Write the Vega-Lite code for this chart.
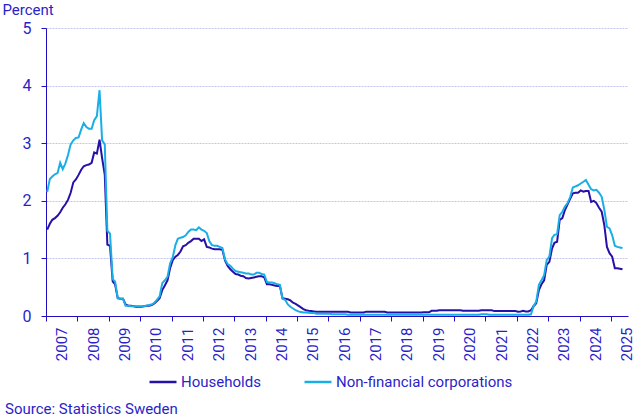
{
  "$schema": "https://vega.github.io/schema/vega-lite/v6.json",
  "width": 582,
  "height": 288,
  "autosize": {"type": "none"},
  "padding": {"left": 46, "top": 28, "right": 16, "bottom": 101},
  "background": "white",
  "config": {"view": {"stroke": null}, "font": "Roboto"},
  "title": {
    "text": "Source: Statistics Sweden",
    "orient": "bottom",
    "anchor": "start",
    "frame": "group",
    "dx": -41,
    "offset": 12,
    "fontSize": 15,
    "fontWeight": "normal",
    "color": "#2a1fc8"
  },
  "datasets": {
    "households": [
      {"d":"2007-01-15","v":1.50},{"d":"2007-02-15","v":1.60},{"d":"2007-03-15","v":1.67},{"d":"2007-04-15","v":1.70},{"d":"2007-05-15","v":1.74},{"d":"2007-06-15","v":1.80},{"d":"2007-07-15","v":1.88},{"d":"2007-08-15","v":1.94},{"d":"2007-09-15","v":2.02},{"d":"2007-10-15","v":2.14},{"d":"2007-11-15","v":2.32},{"d":"2007-12-15","v":2.37},
      {"d":"2008-01-15","v":2.45},{"d":"2008-02-15","v":2.54},{"d":"2008-03-15","v":2.60},{"d":"2008-04-15","v":2.62},{"d":"2008-05-15","v":2.63},{"d":"2008-06-15","v":2.66},{"d":"2008-07-15","v":2.84},{"d":"2008-08-15","v":2.82},{"d":"2008-09-15","v":3.06},{"d":"2008-10-15","v":2.74},{"d":"2008-11-15","v":2.45},{"d":"2008-12-15","v":1.24},
      {"d":"2009-01-15","v":1.22},{"d":"2009-02-15","v":0.60},{"d":"2009-03-15","v":0.55},{"d":"2009-04-15","v":0.31},{"d":"2009-05-15","v":0.30},{"d":"2009-06-15","v":0.30},{"d":"2009-07-15","v":0.20},{"d":"2009-08-15","v":0.18},{"d":"2009-09-15","v":0.18},{"d":"2009-10-15","v":0.17},{"d":"2009-11-15","v":0.16},{"d":"2009-12-15","v":0.16},
      {"d":"2010-01-15","v":0.16},{"d":"2010-02-15","v":0.17},{"d":"2010-03-15","v":0.18},{"d":"2010-04-15","v":0.18},{"d":"2010-05-15","v":0.19},{"d":"2010-06-15","v":0.22},{"d":"2010-07-15","v":0.26},{"d":"2010-08-15","v":0.31},{"d":"2010-09-15","v":0.45},{"d":"2010-10-15","v":0.53},{"d":"2010-11-15","v":0.62},{"d":"2010-12-15","v":0.83},
      {"d":"2011-01-15","v":0.97},{"d":"2011-02-15","v":1.03},{"d":"2011-03-15","v":1.06},{"d":"2011-04-15","v":1.12},{"d":"2011-05-15","v":1.21},{"d":"2011-06-15","v":1.23},{"d":"2011-07-15","v":1.27},{"d":"2011-08-15","v":1.30},{"d":"2011-09-15","v":1.34},{"d":"2011-10-15","v":1.34},{"d":"2011-11-15","v":1.34},{"d":"2011-12-15","v":1.30},
      {"d":"2012-01-15","v":1.33},{"d":"2012-02-15","v":1.20},{"d":"2012-03-15","v":1.19},{"d":"2012-04-15","v":1.17},{"d":"2012-05-15","v":1.16},{"d":"2012-06-15","v":1.16},{"d":"2012-07-15","v":1.16},{"d":"2012-08-15","v":1.15},{"d":"2012-09-15","v":0.96},{"d":"2012-10-15","v":0.87},{"d":"2012-11-15","v":0.81},{"d":"2012-12-15","v":0.77},
      {"d":"2013-01-15","v":0.73},{"d":"2013-02-15","v":0.72},{"d":"2013-03-15","v":0.70},{"d":"2013-04-15","v":0.69},{"d":"2013-05-15","v":0.66},{"d":"2013-06-15","v":0.65},{"d":"2013-07-15","v":0.66},{"d":"2013-08-15","v":0.67},{"d":"2013-09-15","v":0.68},{"d":"2013-10-15","v":0.69},{"d":"2013-11-15","v":0.69},{"d":"2013-12-15","v":0.67},
      {"d":"2014-01-15","v":0.55},{"d":"2014-02-15","v":0.55},{"d":"2014-03-15","v":0.54},{"d":"2014-04-15","v":0.53},{"d":"2014-05-15","v":0.52},{"d":"2014-06-15","v":0.52},{"d":"2014-07-15","v":0.31},{"d":"2014-08-15","v":0.30},{"d":"2014-09-15","v":0.29},{"d":"2014-10-15","v":0.27},{"d":"2014-11-15","v":0.23},{"d":"2014-12-15","v":0.21},
      {"d":"2015-01-15","v":0.18},{"d":"2015-02-15","v":0.15},{"d":"2015-03-15","v":0.12},{"d":"2015-04-15","v":0.10},{"d":"2015-05-15","v":0.09},{"d":"2015-06-15","v":0.085},{"d":"2015-07-15","v":0.08},{"d":"2015-08-15","v":0.075},{"d":"2015-09-15","v":0.075},{"d":"2015-10-15","v":0.075},{"d":"2015-11-15","v":0.075},{"d":"2015-12-15","v":0.075},
      {"d":"2016-01-15","v":0.075},{"d":"2016-02-15","v":0.075},{"d":"2016-03-15","v":0.075},{"d":"2016-04-15","v":0.075},{"d":"2016-05-15","v":0.075},{"d":"2016-06-15","v":0.075},{"d":"2016-07-15","v":0.075},{"d":"2016-08-15","v":0.075},{"d":"2016-09-15","v":0.06},{"d":"2016-10-15","v":0.06},{"d":"2016-11-15","v":0.06},{"d":"2016-12-15","v":0.06},
      {"d":"2017-01-15","v":0.06},{"d":"2017-02-15","v":0.06},{"d":"2017-03-15","v":0.075},{"d":"2017-04-15","v":0.075},{"d":"2017-05-15","v":0.075},{"d":"2017-06-15","v":0.075},{"d":"2017-07-15","v":0.075},{"d":"2017-08-15","v":0.075},{"d":"2017-09-15","v":0.075},{"d":"2017-10-15","v":0.075},{"d":"2017-11-15","v":0.06},{"d":"2017-12-15","v":0.06},
      {"d":"2018-01-15","v":0.06},{"d":"2018-02-15","v":0.06},{"d":"2018-03-15","v":0.06},{"d":"2018-04-15","v":0.06},{"d":"2018-05-15","v":0.06},{"d":"2018-06-15","v":0.06},{"d":"2018-07-15","v":0.06},{"d":"2018-08-15","v":0.06},{"d":"2018-09-15","v":0.06},{"d":"2018-10-15","v":0.06},{"d":"2018-11-15","v":0.06},{"d":"2018-12-15","v":0.06},
      {"d":"2019-01-15","v":0.065},{"d":"2019-02-15","v":0.065},{"d":"2019-03-15","v":0.065},{"d":"2019-04-15","v":0.09},{"d":"2019-05-15","v":0.09},{"d":"2019-06-15","v":0.09},{"d":"2019-07-15","v":0.10},{"d":"2019-08-15","v":0.10},{"d":"2019-09-15","v":0.10},{"d":"2019-10-15","v":0.10},{"d":"2019-11-15","v":0.10},{"d":"2019-12-15","v":0.10},
      {"d":"2020-01-15","v":0.10},{"d":"2020-02-15","v":0.10},{"d":"2020-03-15","v":0.10},{"d":"2020-04-15","v":0.09},{"d":"2020-05-15","v":0.09},{"d":"2020-06-15","v":0.09},{"d":"2020-07-15","v":0.09},{"d":"2020-08-15","v":0.09},{"d":"2020-09-15","v":0.09},{"d":"2020-10-15","v":0.09},{"d":"2020-11-15","v":0.10},{"d":"2020-12-15","v":0.10},
      {"d":"2021-01-15","v":0.10},{"d":"2021-02-15","v":0.10},{"d":"2021-03-15","v":0.10},{"d":"2021-04-15","v":0.085},{"d":"2021-05-15","v":0.085},{"d":"2021-06-15","v":0.085},{"d":"2021-07-15","v":0.085},{"d":"2021-08-15","v":0.085},{"d":"2021-09-15","v":0.085},{"d":"2021-10-15","v":0.085},{"d":"2021-11-15","v":0.085},{"d":"2021-12-15","v":0.085},
      {"d":"2022-01-15","v":0.075},{"d":"2022-02-15","v":0.08},{"d":"2022-03-15","v":0.09},{"d":"2022-04-15","v":0.08},{"d":"2022-05-15","v":0.08},{"d":"2022-06-15","v":0.10},{"d":"2022-07-15","v":0.17},{"d":"2022-08-15","v":0.22},{"d":"2022-09-15","v":0.45},{"d":"2022-10-15","v":0.55},{"d":"2022-11-15","v":0.62},{"d":"2022-12-15","v":0.89},
      {"d":"2023-01-15","v":0.94},{"d":"2023-02-15","v":1.17},{"d":"2023-03-15","v":1.27},{"d":"2023-04-15","v":1.29},{"d":"2023-05-15","v":1.67},{"d":"2023-06-15","v":1.70},{"d":"2023-07-15","v":1.84},{"d":"2023-08-15","v":1.94},{"d":"2023-09-15","v":2.04},{"d":"2023-10-15","v":2.13},{"d":"2023-11-15","v":2.14},{"d":"2023-12-15","v":2.14},
      {"d":"2024-01-15","v":2.18},{"d":"2024-02-15","v":2.16},{"d":"2024-03-15","v":2.17},{"d":"2024-04-15","v":2.17},{"d":"2024-05-15","v":1.98},{"d":"2024-06-15","v":2.00},{"d":"2024-07-15","v":1.96},{"d":"2024-08-15","v":1.88},{"d":"2024-09-15","v":1.81},{"d":"2024-10-15","v":1.58},{"d":"2024-11-15","v":1.20},{"d":"2024-12-15","v":1.09},
      {"d":"2025-01-15","v":1.03},{"d":"2025-02-15","v":0.83},{"d":"2025-03-15","v":0.83},{"d":"2025-04-15","v":0.82},{"d":"2025-05-15","v":0.81}
    ],
    "nfc": [
      {"d":"2007-01-15","v":2.15},{"d":"2007-02-15","v":2.38},{"d":"2007-03-15","v":2.42},{"d":"2007-04-15","v":2.46},{"d":"2007-05-15","v":2.48},{"d":"2007-06-15","v":2.66},{"d":"2007-07-15","v":2.55},{"d":"2007-08-15","v":2.65},{"d":"2007-09-15","v":2.80},{"d":"2007-10-15","v":2.98},{"d":"2007-11-15","v":3.05},{"d":"2007-12-15","v":3.09},
      {"d":"2008-01-15","v":3.10},{"d":"2008-02-15","v":3.24},{"d":"2008-03-15","v":3.35},{"d":"2008-04-15","v":3.28},{"d":"2008-05-15","v":3.25},{"d":"2008-06-15","v":3.25},{"d":"2008-07-15","v":3.40},{"d":"2008-08-15","v":3.47},{"d":"2008-09-15","v":3.92},{"d":"2008-10-15","v":3.05},{"d":"2008-11-15","v":2.98},{"d":"2008-12-15","v":1.48},
      {"d":"2009-01-15","v":1.43},{"d":"2009-02-15","v":0.64},{"d":"2009-03-15","v":0.60},{"d":"2009-04-15","v":0.31},{"d":"2009-05-15","v":0.30},{"d":"2009-06-15","v":0.30},{"d":"2009-07-15","v":0.18},{"d":"2009-08-15","v":0.18},{"d":"2009-09-15","v":0.17},{"d":"2009-10-15","v":0.17},{"d":"2009-11-15","v":0.17},{"d":"2009-12-15","v":0.17},
      {"d":"2010-01-15","v":0.17},{"d":"2010-02-15","v":0.17},{"d":"2010-03-15","v":0.18},{"d":"2010-04-15","v":0.19},{"d":"2010-05-15","v":0.20},{"d":"2010-06-15","v":0.23},{"d":"2010-07-15","v":0.28},{"d":"2010-08-15","v":0.34},{"d":"2010-09-15","v":0.57},{"d":"2010-10-15","v":0.62},{"d":"2010-11-15","v":0.68},{"d":"2010-12-15","v":0.91},
      {"d":"2011-01-15","v":1.02},{"d":"2011-02-15","v":1.23},{"d":"2011-03-15","v":1.34},{"d":"2011-04-15","v":1.36},{"d":"2011-05-15","v":1.37},{"d":"2011-06-15","v":1.40},{"d":"2011-07-15","v":1.46},{"d":"2011-08-15","v":1.50},{"d":"2011-09-15","v":1.50},{"d":"2011-10-15","v":1.49},{"d":"2011-11-15","v":1.54},{"d":"2011-12-15","v":1.50},
      {"d":"2012-01-15","v":1.48},{"d":"2012-02-15","v":1.44},{"d":"2012-03-15","v":1.30},{"d":"2012-04-15","v":1.23},{"d":"2012-05-15","v":1.22},{"d":"2012-06-15","v":1.22},{"d":"2012-07-15","v":1.20},{"d":"2012-08-15","v":1.18},{"d":"2012-09-15","v":0.98},{"d":"2012-10-15","v":0.90},{"d":"2012-11-15","v":0.87},{"d":"2012-12-15","v":0.82},
      {"d":"2013-01-15","v":0.78},{"d":"2013-02-15","v":0.77},{"d":"2013-03-15","v":0.76},{"d":"2013-04-15","v":0.75},{"d":"2013-05-15","v":0.74},{"d":"2013-06-15","v":0.74},{"d":"2013-07-15","v":0.72},{"d":"2013-08-15","v":0.72},{"d":"2013-09-15","v":0.75},{"d":"2013-10-15","v":0.75},{"d":"2013-11-15","v":0.73},{"d":"2013-12-15","v":0.72},
      {"d":"2014-01-15","v":0.59},{"d":"2014-02-15","v":0.58},{"d":"2014-03-15","v":0.58},{"d":"2014-04-15","v":0.57},{"d":"2014-05-15","v":0.55},{"d":"2014-06-15","v":0.54},{"d":"2014-07-15","v":0.30},{"d":"2014-08-15","v":0.28},{"d":"2014-09-15","v":0.20},{"d":"2014-10-15","v":0.16},{"d":"2014-11-15","v":0.13},{"d":"2014-12-15","v":0.10},
      {"d":"2015-01-15","v":0.08},{"d":"2015-02-15","v":0.07},{"d":"2015-03-15","v":0.06},{"d":"2015-04-15","v":0.06},{"d":"2015-05-15","v":0.055},{"d":"2015-06-15","v":0.05},{"d":"2015-07-15","v":0.05},{"d":"2015-08-15","v":0.04},{"d":"2015-09-15","v":0.04},{"d":"2015-10-15","v":0.04},{"d":"2015-11-15","v":0.04},{"d":"2015-12-15","v":0.04},
      {"d":"2016-01-15","v":0.04},{"d":"2016-02-15","v":0.03},{"d":"2016-03-15","v":0.03},{"d":"2016-04-15","v":0.03},{"d":"2016-05-15","v":0.03},{"d":"2016-06-15","v":0.03},{"d":"2016-07-15","v":0.03},{"d":"2016-08-15","v":0.02},{"d":"2016-09-15","v":0.02},{"d":"2016-10-15","v":0.02},{"d":"2016-11-15","v":0.02},{"d":"2016-12-15","v":0.02},
      {"d":"2017-01-15","v":0.02},{"d":"2017-02-15","v":0.02},{"d":"2017-03-15","v":0.02},{"d":"2017-04-15","v":0.02},{"d":"2017-05-15","v":0.02},{"d":"2017-06-15","v":0.02},{"d":"2017-07-15","v":0.02},{"d":"2017-08-15","v":0.02},{"d":"2017-09-15","v":0.02},{"d":"2017-10-15","v":0.02},{"d":"2017-11-15","v":0.02},{"d":"2017-12-15","v":0.02},
      {"d":"2018-01-15","v":0.02},{"d":"2018-02-15","v":0.02},{"d":"2018-03-15","v":0.02},{"d":"2018-04-15","v":0.02},{"d":"2018-05-15","v":0.02},{"d":"2018-06-15","v":0.02},{"d":"2018-07-15","v":0.02},{"d":"2018-08-15","v":0.02},{"d":"2018-09-15","v":0.02},{"d":"2018-10-15","v":0.02},{"d":"2018-11-15","v":0.02},{"d":"2018-12-15","v":0.02},
      {"d":"2019-01-15","v":0.02},{"d":"2019-02-15","v":0.02},{"d":"2019-03-15","v":0.02},{"d":"2019-04-15","v":0.02},{"d":"2019-05-15","v":0.02},{"d":"2019-06-15","v":0.02},{"d":"2019-07-15","v":0.02},{"d":"2019-08-15","v":0.02},{"d":"2019-09-15","v":0.02},{"d":"2019-10-15","v":0.02},{"d":"2019-11-15","v":0.02},{"d":"2019-12-15","v":0.02},
      {"d":"2020-01-15","v":0.02},{"d":"2020-02-15","v":0.02},{"d":"2020-03-15","v":0.02},{"d":"2020-04-15","v":0.02},{"d":"2020-05-15","v":0.02},{"d":"2020-06-15","v":0.02},{"d":"2020-07-15","v":0.02},{"d":"2020-08-15","v":0.02},{"d":"2020-09-15","v":0.02},{"d":"2020-10-15","v":0.02},{"d":"2020-11-15","v":0.03},{"d":"2020-12-15","v":0.03},
      {"d":"2021-01-15","v":0.03},{"d":"2021-02-15","v":0.02},{"d":"2021-03-15","v":0.02},{"d":"2021-04-15","v":0.02},{"d":"2021-05-15","v":0.02},{"d":"2021-06-15","v":0.02},{"d":"2021-07-15","v":0.02},{"d":"2021-08-15","v":0.02},{"d":"2021-09-15","v":0.02},{"d":"2021-10-15","v":0.02},{"d":"2021-11-15","v":0.02},{"d":"2021-12-15","v":0.02},
      {"d":"2022-01-15","v":0.02},{"d":"2022-02-15","v":0.02},{"d":"2022-03-15","v":0.02},{"d":"2022-04-15","v":0.02},{"d":"2022-05-15","v":0.02},{"d":"2022-06-15","v":0.03},{"d":"2022-07-15","v":0.17},{"d":"2022-08-15","v":0.25},{"d":"2022-09-15","v":0.54},{"d":"2022-10-15","v":0.62},{"d":"2022-11-15","v":0.71},{"d":"2022-12-15","v":0.97},
      {"d":"2023-01-15","v":1.03},{"d":"2023-02-15","v":1.35},{"d":"2023-03-15","v":1.41},{"d":"2023-04-15","v":1.42},{"d":"2023-05-15","v":1.75},{"d":"2023-06-15","v":1.81},{"d":"2023-07-15","v":1.90},{"d":"2023-08-15","v":1.96},{"d":"2023-09-15","v":2.07},{"d":"2023-10-15","v":2.23},{"d":"2023-11-15","v":2.25},{"d":"2023-12-15","v":2.27},
      {"d":"2024-01-15","v":2.30},{"d":"2024-02-15","v":2.33},{"d":"2024-03-15","v":2.36},{"d":"2024-04-15","v":2.28},{"d":"2024-05-15","v":2.20},{"d":"2024-06-15","v":2.18},{"d":"2024-07-15","v":2.19},{"d":"2024-08-15","v":2.14},{"d":"2024-09-15","v":2.07},{"d":"2024-10-15","v":1.85},{"d":"2024-11-15","v":1.55},{"d":"2024-12-15","v":1.52},
      {"d":"2025-01-15","v":1.40},{"d":"2025-02-15","v":1.22},{"d":"2025-03-15","v":1.20},{"d":"2025-04-15","v":1.19},{"d":"2025-05-15","v":1.18}
    ]
  },
  "encoding": {
    "x": {
      "field": "d",
      "type": "temporal",
      "scale": {"domain": ["2007-01-01", "2025-07-18"]},
      "axis": {
        "title": null,
        "format": "%Y",
        "tickCount": {"interval": "year", "step": 1},
        "labelAngle": -90,
        "labelAlign": "right",
        "labelBaseline": "middle",
        "labelOffset": 15.7,
        "labelFlush": false,
        "labelOverlap": false,
        "labelPadding": 6,
        "labelFontSize": 15,
        "labelColor": "#2a1fc8",
        "tickSize": 5,
        "tickColor": "#2010c0",
        "domainColor": "#2010c0",
        "grid": false
      }
    },
    "y": {
      "field": "v",
      "type": "quantitative",
      "scale": {"domain": [0, 5]},
      "axis": {
        "title": "Percent",
        "titleAngle": 0,
        "titleAlign": "left",
        "titleBaseline": "alphabetic",
        "titleX": -44,
        "titleY": -14,
        "titleFontSize": 15,
        "titleFontWeight": "normal",
        "titleColor": "#2a1fc8",
        "values": [0, 1, 2, 3, 4, 5],
        "labelFontSize": 16,
        "labelColor": "#2a1fc8",
        "labelPadding": 10,
        "tickSize": 5,
        "tickColor": "#2010c0",
        "domainColor": "#2010c0",
        "gridColor": "#c4c4ee",
        "gridDash": [2, 1]
      }
    }
  },
  "layer": [
    {
      "data": {"name": "households"},
      "mark": {"type": "line", "strokeWidth": 2},
      "encoding": {
        "color": {
          "datum": "Households",
          "type": "nominal",
          "scale": {
            "domain": ["Households", "Non-financial corporations"],
            "range": ["#2510a8", "#1aaee6"]
          },
          "legend": {
            "orient": "none",
            "legendX": 102,
            "legendY": 339,
            "direction": "horizontal",
            "title": null,
            "padding": 0,
            "symbolType": "stroke",
            "symbolSize": 729,
            "symbolStrokeWidth": 2.5,
            "labelFontSize": 15,
            "labelColor": "#2a1fc8",
            "labelOffset": 3,
            "labelLimit": 0,
            "columnPadding": 38
          }
        }
      }
    },
    {
      "data": {"name": "nfc"},
      "mark": {"type": "line", "strokeWidth": 2},
      "encoding": {
        "color": {"datum": "Non-financial corporations", "type": "nominal"}
      }
    }
  ]
}
